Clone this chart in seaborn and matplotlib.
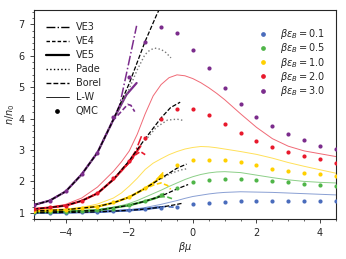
import numpy as np
import pandas as pd
import seaborn as sns
import matplotlib
matplotlib.use("Agg")
import matplotlib.pyplot as plt
from matplotlib.lines import Line2D

# ---- QMC points (beta*mu on x, n/n0 on y)
qmc_x = [-5.0, -4.5, -4.0, -3.5, -3.0, -2.5, -2.0, -1.5, -1.0, -0.5,
         0.0, 0.5, 1.0, 1.5, 2.0, 2.5, 3.0, 3.5, 4.0, 4.5]
qmc_blue = [1.00, 1.00, 1.01, 1.02, 1.03, 1.05, 1.08, 1.12, 1.16, 1.20,
            1.28, 1.32, 1.36, 1.39, 1.39, 1.39, 1.39, 1.39, 1.39, 1.38]
qmc_green = [1.02, 1.03, 1.04, 1.06, 1.08, 1.13, 1.25, 1.38, 1.58, 1.80,
             1.97, 2.05, 2.09, 2.07, 2.03, 2.00, 1.97, 1.92, 1.88, 1.86]
qmc_yellow = [1.06, 1.08, 1.10, 1.14, 1.20, 1.33, 1.50, 1.79, 2.18, 2.53,
              2.69, 2.69, 2.69, 2.62, 2.53, 2.40, 2.32, 2.27, 2.24, 2.16]
qmc_red = [1.12, 1.17, 1.22, 1.39, 1.64, 2.11, 2.65, 3.39, 3.99, 4.31,
           4.31, 4.12, 3.83, 3.55, 3.29, 3.10, 2.94, 2.82, 2.72, 2.59]
qmc_purple = [1.25, 1.39, 1.68, 2.24, 2.91, 4.06, 5.33, 6.45, 6.90, 6.73,
              6.19, 5.60, 4.98, 4.47, 4.06, 3.77, 3.52, 3.32, 3.13, 3.04]

# ---- L-W curves
lw_x = [-5.0, -4.5, -4.0, -3.5, -3.0, -2.5, -2.25, -2.0, -1.75, -1.5, -1.25, -1.0,
        -0.75, -0.5, -0.25, 0.0, 0.25, 0.5, 0.75, 1.0, 1.5, 2.0, 2.5, 3.0,
        3.5, 4.0, 4.5]
lw_blue = [1.00, 1.00, 1.01, 1.02, 1.03, 1.06, 1.08, 1.10, 1.13, 1.17, 1.22, 1.27,
           1.33, 1.39, 1.46, 1.52, 1.56, 1.60, 1.63, 1.65, 1.67, 1.66, 1.65, 1.63,
           1.61, 1.59, 1.57]
lw_green = [1.02, 1.03, 1.04, 1.06, 1.10, 1.18, 1.23, 1.30, 1.39, 1.50, 1.61, 1.72,
            1.84, 1.95, 2.06, 2.15, 2.22, 2.27, 2.30, 2.31, 2.28, 2.20, 2.12, 2.05,
            2.00, 1.97, 1.95]
lw_yellow = [1.05, 1.07, 1.10, 1.17, 1.28, 1.47, 1.63, 1.85, 2.10, 2.38, 2.58, 2.72,
             2.85, 2.95, 3.03, 3.08, 3.11, 3.10, 3.07, 3.03, 2.95, 2.86, 2.74, 2.60,
             2.48, 2.37, 2.26]
lw_red = [1.12, 1.18, 1.27, 1.47, 1.82, 2.32, 2.62, 2.97, 3.50, 4.15, 4.72, 5.08,
          5.30, 5.39, 5.36, 5.27, 5.14, 4.98, 4.80, 4.60, 4.15, 3.72, 3.36, 3.12,
          2.97, 2.88, 2.79]

# ---- virial expansions (VE3 / VE4 / VE5), Pade and Borel
ve3_purple_x = [-5.0, -4.5, -4.0, -3.5, -3.0, -2.5, -2.3, -2.04, -1.77]
ve3_purple_y = [1.25, 1.39, 1.68, 2.22, 2.92, 3.98, 4.44, 5.66, 6.95]
ve4_purple_x = [-5.0, -4.5, -4.0, -3.5, -3.0, -2.5, -2.3, -2.05, -1.95, -1.83]
ve4_purple_y = [1.25, 1.39, 1.68, 2.22, 2.92, 3.95, 4.17, 4.45, 4.42, 4.22]
ve5_purple_x = [-5.0, -4.5, -4.0, -3.5, -3.0, -2.5, -2.09, -1.77]
ve5_purple_y = [1.25, 1.39, 1.68, 2.22, 2.92, 3.97, 4.76, 5.13]
pade_purple_x = [-5.0, -4.5, -4.0, -3.5, -3.0, -2.5, -2.04, -1.75, -1.51, -1.35,
                 -1.2, -1.0, -0.85, -0.69]
pade_purple_y = [1.25, 1.39, 1.68, 2.22, 2.92, 3.97, 4.86, 5.55, 6.03, 6.18,
                 6.24, 6.20, 6.10, 5.93]
borel_purple_x = [-5.0, -4.5, -4.0, -3.5, -3.0, -2.5, -2.0, -1.5, -1.14, -0.95]
borel_purple_y = [1.25, 1.39, 1.68, 2.22, 2.92, 3.97, 5.12, 6.46, 7.30, 7.70]

ve3_red_x = [-5.0, -4.5, -4.0, -3.5, -3.0, -2.5, -2.0, -1.8, -1.6]
ve3_red_y = [1.12, 1.17, 1.23, 1.38, 1.62, 2.07, 2.65, 2.97, 3.48]
ve4_red_x = [-5.0, -4.5, -4.0, -3.5, -3.0, -2.5, -2.0, -1.8, -1.65, -1.5]
ve4_red_y = [1.12, 1.17, 1.23, 1.38, 1.62, 2.06, 2.60, 2.85, 2.95, 2.85]
ve5_red_x = [-5.0, -4.5, -4.0, -3.5, -3.0, -2.5, -2.0, -1.8, -1.65]
ve5_red_y = [1.12, 1.17, 1.23, 1.38, 1.62, 2.06, 2.62, 2.90, 3.12]
pade_red_x = [-1.5, -1.15, -0.8, -0.5, -0.3]
pade_red_y = [3.30, 3.72, 3.95, 3.98, 3.94]
borel_red_x = [-5.0, -4.5, -4.0, -3.5, -3.0, -2.5, -2.0, -1.5, -1.0, -0.7, -0.4]
borel_red_y = [1.12, 1.17, 1.23, 1.38, 1.62, 2.06, 2.66, 3.36, 4.02, 4.35, 4.52]

ve3_yellow_x = [-5.0, -4.0, -3.0, -2.5, -2.0, -1.5, -1.2, -0.9]
ve3_yellow_y = [1.06, 1.10, 1.20, 1.32, 1.50, 1.78, 2.00, 2.32]
ve4_yellow_x = [-5.0, -4.0, -3.0, -2.5, -2.0, -1.5, -1.2, -1.0, -0.8, -0.7]
ve4_yellow_y = [1.06, 1.10, 1.20, 1.32, 1.50, 1.77, 1.90, 1.95, 1.87, 1.75]
ve5_yellow_x = [-5.0, -4.0, -3.0, -2.5, -2.0, -1.5, -1.2, -0.95]
ve5_yellow_y = [1.06, 1.10, 1.20, 1.32, 1.50, 1.78, 1.98, 2.20]
pade_yellow_x = [-1.0, -0.7, -0.4, -0.2]
pade_yellow_y = [2.08, 2.25, 2.36, 2.40]
borel_yellow_x = [-5.0, -4.0, -3.0, -2.5, -2.0, -1.5, -1.0, -0.5, -0.2]
borel_yellow_y = [1.06, 1.10, 1.20, 1.32, 1.50, 1.78, 2.10, 2.42, 2.55]

ve3_green_x = [-5.0, -4.0, -3.0, -2.0, -1.5, -1.2, -0.9]
ve3_green_y = [1.02, 1.04, 1.08, 1.24, 1.37, 1.47, 1.62]
ve4_green_x = [-5.0, -4.0, -3.0, -2.0, -1.5, -1.2, -1.0, -0.8, -0.65]
ve4_green_y = [1.02, 1.04, 1.08, 1.24, 1.37, 1.46, 1.52, 1.50, 1.45]
ve5_green_x = [-5.0, -4.0, -3.0, -2.0, -1.5, -1.2, -0.95]
ve5_green_y = [1.02, 1.04, 1.08, 1.24, 1.37, 1.46, 1.56]
borel_green_x = [-5.0, -4.0, -3.0, -2.0, -1.5, -1.0, -0.5, -0.15]
borel_green_y = [1.02, 1.04, 1.08, 1.24, 1.37, 1.53, 1.76, 1.90]

ve3_blue_x = [-5.0, -4.0, -3.0, -2.0, -1.5, -1.0]
ve3_blue_y = [1.00, 1.01, 1.03, 1.08, 1.12, 1.19]
ve4_blue_x = [-5.0, -4.0, -3.0, -2.0, -1.5, -1.1, -0.85, -0.6]
ve4_blue_y = [1.00, 1.01, 1.03, 1.08, 1.12, 1.18, 1.20, 1.18]
ve5_blue_x = [-5.0, -4.0, -3.0, -2.0, -1.5, -1.0]
ve5_blue_y = [1.00, 1.01, 1.03, 1.08, 1.12, 1.18]
borel_blue_x = [-5.0, -4.0, -3.0, -2.0, -1.5, -1.0, -0.6, -0.3]
borel_blue_y = [1.00, 1.01, 1.03, 1.08, 1.12, 1.18, 1.25, 1.31]

beta_eps = ["0.1", "0.5", "1.0", "2.0", "3.0"]
colors = ["#4a6cbc", "#4fb548", "#ffd000", "#e8192c", "#7b2c8c"]

sns.set_style("ticks")
plt.rcParams["font.family"] = ["DejaVu Sans"]
plt.rcParams["font.size"] = 7

fig, ax = plt.subplots(figsize=(3.46, 2.59), dpi=100)
fig.subplots_adjust(left=0.098, right=0.971, top=0.961, bottom=0.154)


def line(x, y, color, ls="-", lw=1.0, alpha=1.0, dashes=None):
    kw = dict(x=x, y=y, ax=ax, color=color, linestyle=ls, linewidth=lw,
              alpha=alpha, estimator=None, sort=False, legend=False)
    l = sns.lineplot(**kw)
    if dashes is not None:
        l.lines[-1].set_dashes(dashes)


# L-W thin lines
for vals, c in zip([lw_blue, lw_green, lw_yellow, lw_red], colors[:4]):
    line(lw_x, vals, c, lw=0.7, alpha=0.65)

# virial expansions in series colours
ve_sets = [
    (ve3_blue_x, ve3_blue_y, ve4_blue_x, ve4_blue_y, ve5_blue_x, ve5_blue_y, colors[0]),
    (ve3_green_x, ve3_green_y, ve4_green_x, ve4_green_y, ve5_green_x, ve5_green_y, colors[1]),
    (ve3_yellow_x, ve3_yellow_y, ve4_yellow_x, ve4_yellow_y, ve5_yellow_x, ve5_yellow_y, colors[2]),
    (ve3_red_x, ve3_red_y, ve4_red_x, ve4_red_y, ve5_red_x, ve5_red_y, colors[3]),
    (ve3_purple_x, ve3_purple_y, ve4_purple_x, ve4_purple_y, ve5_purple_x, ve5_purple_y, colors[4]),
]
for x3, y3, x4, y4, x5, y5, c in ve_sets:
    line(x3, y3, c, ls="-.", lw=1.1)
    line(x4, y4, c, ls="--", lw=1.2, dashes=(3, 1.5))
    line(x5, y5, c, ls="-", lw=1.6)

# Pade (grey dotted) and Borel (black dashed)
for x, y in [(pade_purple_x, pade_purple_y), (pade_red_x, pade_red_y),
             (pade_yellow_x, pade_yellow_y)]:
    line(x, y, "#777777", ls=":", lw=1.0)
for x, y in [(borel_purple_x, borel_purple_y), (borel_red_x, borel_red_y),
             (borel_yellow_x, borel_yellow_y), (borel_green_x, borel_green_y),
             (borel_blue_x, borel_blue_y)]:
    line(x, y, "black", ls="--", lw=0.9, dashes=(3.5, 1.5))

# QMC points
for vals, c in zip([qmc_blue, qmc_green, qmc_yellow, qmc_red, qmc_purple], colors):
    sns.scatterplot(x=qmc_x, y=vals, ax=ax, color=c, s=9, linewidth=0, zorder=5)

ax.set_xlim(-5, 4.5)
ax.set_ylim(0.8, 7.45)
ax.set_yticks([1, 2, 3, 4, 5, 6, 7])
ax.set_xticks([-4, -2, 0, 2, 4])
ax.minorticks_on()
ax.tick_params(which="both", direction="out", labelsize=7)
ax.tick_params(which="major", length=3, width=0.6)
ax.tick_params(which="minor", length=1.5, width=0.5)
for s in ax.spines.values():
    s.set_linewidth(0.8)
ax.set_xlabel(r"$\beta\mu$", fontsize=7, labelpad=1)
ax.set_ylabel(r"$n/n_0$", fontsize=7, labelpad=1)

h1 = [
    Line2D([], [], color="black", ls="-.", lw=1.0),
    Line2D([], [], color="black", ls="--", lw=1.0, dashes=(2.5, 1.5)),
    Line2D([], [], color="black", ls="-", lw=1.6),
    Line2D([], [], color="black", ls=":", lw=1.0),
    Line2D([], [], color="black", ls="--", lw=1.0, dashes=(3.5, 1.5)),
    Line2D([], [], color="black", ls="-", lw=0.6),
    Line2D([], [], color="black", ls="", marker="o", ms=2.4),
]
leg1 = ax.legend(h1, ["VE3", "VE4", "VE5", "Pade", "Borel", "L-W", "QMC"],
                 loc="upper left", bbox_to_anchor=(0.01, 0.985), frameon=False,
                 fontsize=7, labelspacing=0.42, handlelength=2.4,
                 handletextpad=0.7)
ax.add_artist(leg1)

h2 = [Line2D([], [], color=c, ls="", marker="o", ms=2.4) for c in colors]
ax.legend(h2, [r"$\beta\varepsilon_B = %s$" % b for b in beta_eps],
          loc="upper right", bbox_to_anchor=(0.995, 0.96), frameon=False,
          fontsize=7, labelspacing=0.02, handlelength=1.5, handletextpad=1.0)

fig.savefig("out.png", dpi=100)
